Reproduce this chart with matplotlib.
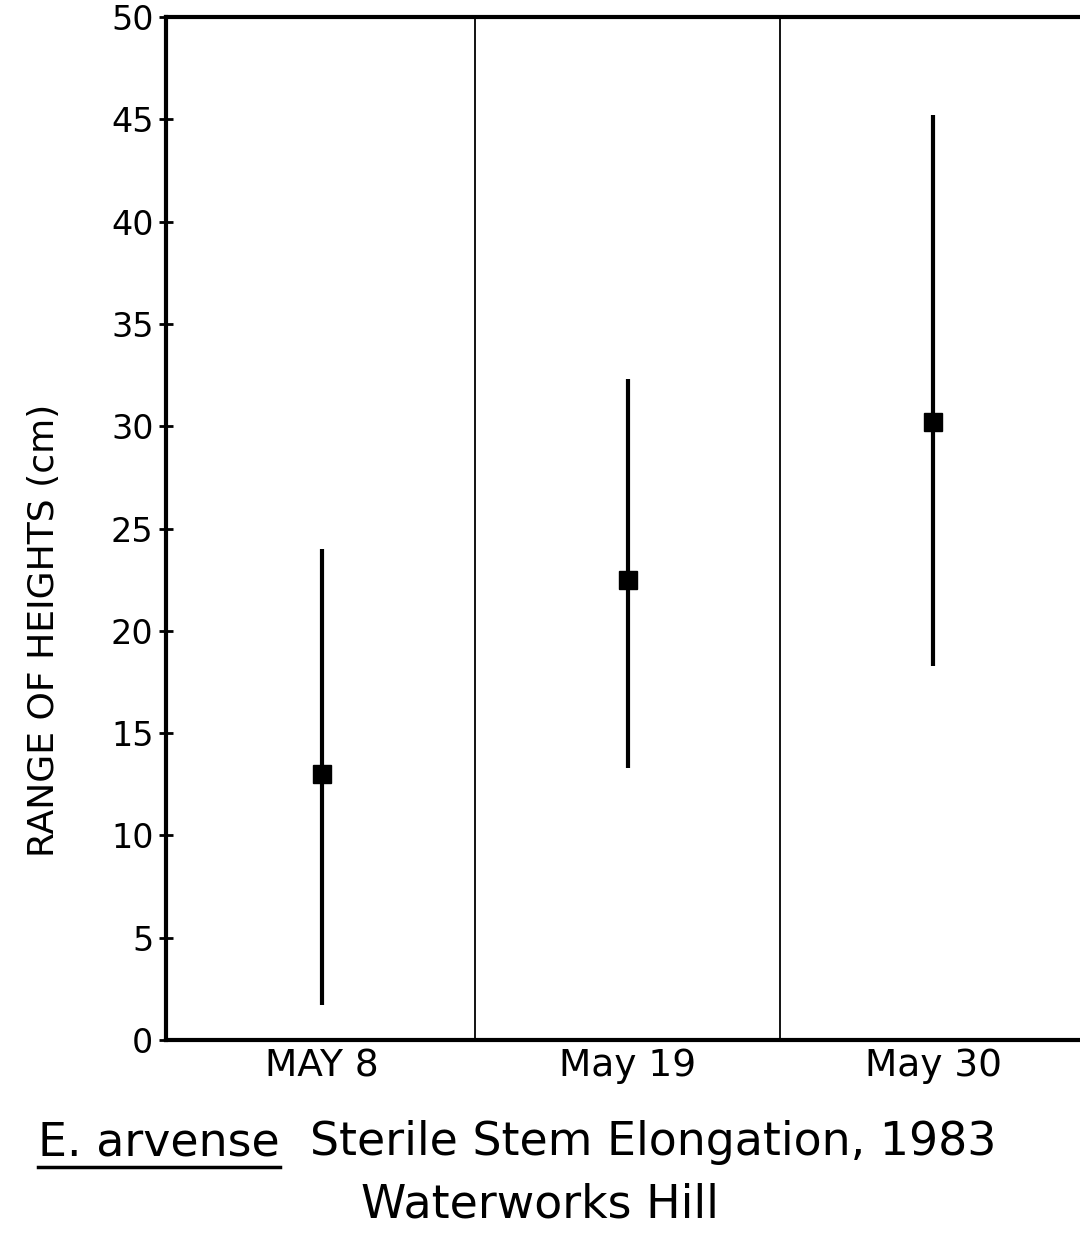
import numpy as np
import matplotlib.pyplot as plt

# Данни, отчетени от графиката
dates = ['MAY 8', 'May 19', 'May 30']
mids = [13.0, 22.5, 30.2]
lows = [1.7, 13.3, 18.3]
highs = [24.0, 32.3, 45.2]
yticks = [0, 5, 10, 15, 20, 25, 30, 35, 40, 45, 50]
dividers = [0.5, 1.5]

plt.rcParams['font.family'] = ['DejaVu Sans']

fig = plt.figure(figsize=(10.8, 12.34), dpi=100)
ax = fig.add_axes([0.1537, 0.1572, 0.8463, 0.829])

x = np.arange(len(dates))
ax.vlines(x, lows, highs, color='black', linewidth=3)
ax.plot(x, mids, 's', color='black', markersize=13, linestyle='none')

for d in dividers:
    ax.axvline(d, color='black', linewidth=1.3)

ax.set_xlim(-0.51, 2.48)
ax.set_ylim(0, 50)
ax.set_yticks(yticks)
ax.set_yticklabels([str(t) for t in yticks], fontsize=24)
ax.set_xticks(x)
ax.set_xticklabels(dates, fontsize=27)
ax.tick_params(axis='y', direction='inout', length=10, width=2, pad=4)
ax.tick_params(axis='x', length=0, pad=6)

ax.spines['right'].set_visible(False)
for s in ['left', 'bottom', 'top']:
    ax.spines[s].set_linewidth(3)

ax.set_ylabel('RANGE OF HEIGHTS (cm)', fontsize=26)
ax.yaxis.set_label_coords(-0.115, 0.40)

# Заглавие с подчертано име на вида
y1 = 1234 - 1155
t1 = fig.text(38 / 1080, y1 / 1234, 'E. arvense', fontsize=33, ha='left', va='baseline')
fig.canvas.draw()
bb = t1.get_window_extent()
fig.text((bb.x1 + 30) / 1080, y1 / 1234, 'Sterile Stem Elongation, 1983',
         fontsize=33, ha='left', va='baseline')
fig.add_artist(plt.Line2D([bb.x0 / 1080, bb.x1 / 1080],
                          [(y1 - 12) / 1234, (y1 - 12) / 1234],
                          color='black', linewidth=2.5))
fig.text(540 / 1080, (1234 - 1218) / 1234, 'Waterworks Hill', fontsize=33,
         ha='center', va='baseline')

plt.savefig('out.png', dpi=100)
